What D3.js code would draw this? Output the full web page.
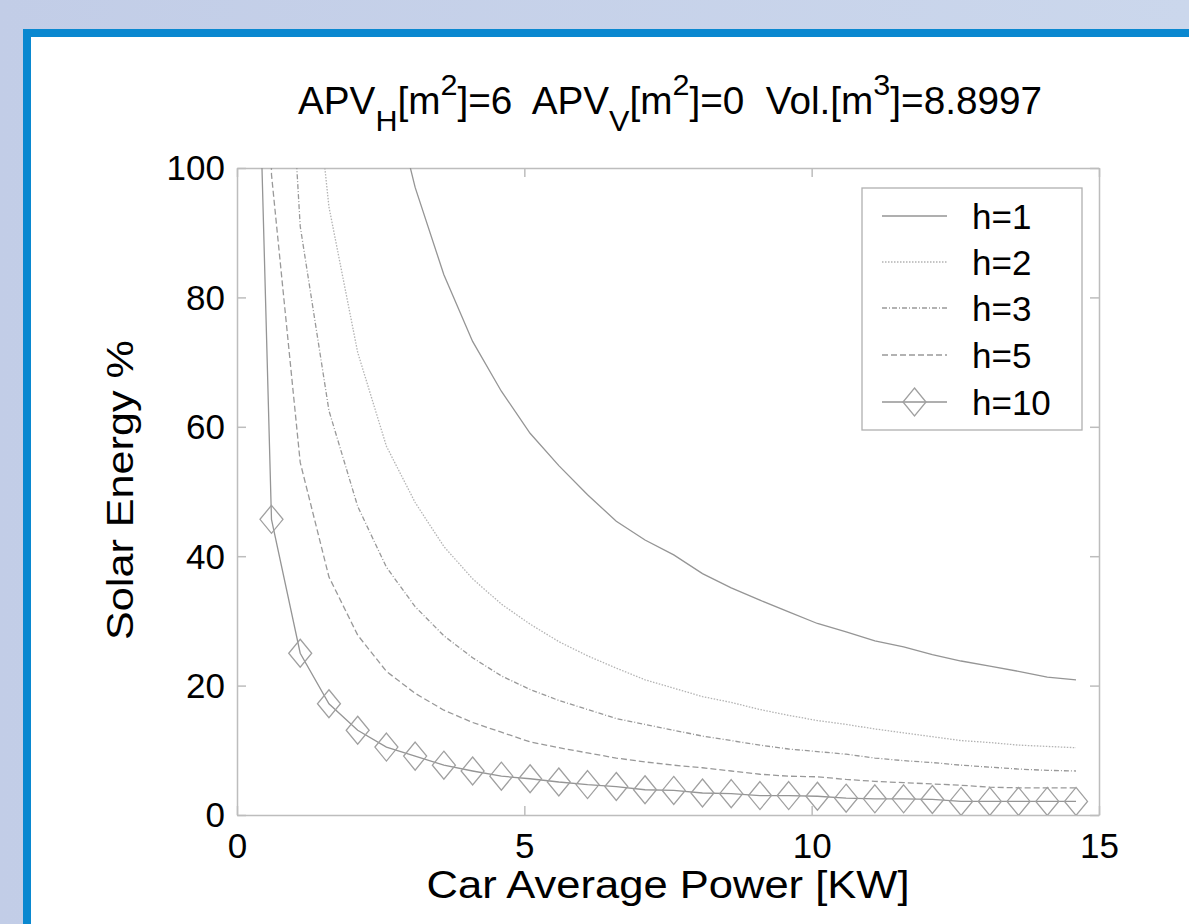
<!DOCTYPE html>
<html>
<head>
<meta charset="utf-8">
<script src="https://cdn.jsdelivr.net/npm/d3@7"></script>
<style>
  body { margin: 0; padding: 0; overflow: hidden; }
  svg { display: block; }
  text { font-family: "Liberation Sans", Arial, sans-serif; fill: #000; }
</style>
</head>
<body>
<svg id="chart"></svg>
<script>
// data
var powerKW = [0.1, 0.6, 1.1, 1.6, 2.1, 2.6, 3.1, 3.6, 4.1, 4.6, 5.1, 5.6, 6.1, 6.6, 7.1,
               7.6, 8.1, 8.6, 9.1, 9.6, 10.1, 10.6, 11.1, 11.6, 12.1, 12.6, 13.1, 13.6, 14.1, 14.6]

var h1 = [3000, 500, 273, 188, 143, 115, 97, 83.5, 73.2, 65.5, 59, 54, 49.5, 45.4, 42.5,
          40.2, 37.3, 35.1, 33.2, 31.4, 29.6, 28.3, 26.9, 26.0, 24.8, 23.8, 23.0, 22.2, 21.3, 20.9]
var h2 = [1500, 250, 136, 94, 71.5, 57, 48.3, 41.5, 36.5, 32.6, 29.5, 26.8, 24.6, 22.7, 20.9,
          19.6, 18.3, 17.4, 16.3, 15.4, 14.6, 14.0, 13.3, 12.7, 12.1, 11.5, 11.2, 10.8, 10.6, 10.4]
var h3 = [1000, 167, 91, 62.5, 47.7, 38.3, 32.2, 27.7, 24.3, 21.5, 19.4, 17.7, 16.3, 14.9, 14.0,
          13.1, 12.2, 11.5, 10.8, 10.2, 9.8, 9.4, 8.8, 8.4, 8.1, 7.7, 7.4, 7.1, 6.9, 6.8]
var h5 = [600, 99, 54.5, 36.8, 27.8, 22.2, 18.8, 16.2, 14.3, 12.8, 11.3, 10.4, 9.6, 8.8, 8.2,
          7.7, 7.3, 6.8, 6.3, 6.0, 5.9, 5.5, 5.2, 5.0, 4.8, 4.6, 4.3, 4.2, 4.2, 4.2]
var h10 = [210, 45.7, 25.0, 17.2, 13.1, 10.5, 9.1, 7.7, 6.8, 6.0, 5.6, 5.1, 4.7, 4.4, 3.9,
           3.8, 3.4, 3.3, 3.0, 3.0, 2.9, 2.6, 2.5, 2.5, 2.4, 2.1, 2.1, 2.1, 2.1, 2.1]

var seriesNames = ["h=1", "h=2", "h=3", "h=5", "h=10"]
var seriesVals = [h1, h2, h3, h5, h10]
var xTicks = [0, 5, 10, 15]
var yTicks = [0, 20, 40, 60, 80, 100]

var width = 1189
var height = 924
var svg = d3.select("#chart").attr("width", width).attr("height", height)

// page background and the blue L frame
var defs = svg.append("defs")
var bg = defs.append("linearGradient").attr("id", "bg").attr("x1", 0).attr("y1", 0).attr("x2", 1).attr("y2", 0)
bg.append("stop").attr("offset", "0%").attr("stop-color", "#c2cde7")
bg.append("stop").attr("offset", "100%").attr("stop-color", "#cbd7ec")
svg.append("rect").attr("width", width).attr("height", height).attr("fill", "url(#bg)")
svg.append("rect").attr("x", 23).attr("y", 29).attr("width", width).attr("height", height).attr("fill", "#0a88d0")
svg.append("rect").attr("x", 31).attr("y", 37).attr("width", width).attr("height", height).attr("fill", "#ffffff")

// scales
var x = d3.scaleLinear().domain([0, 15]).range([237, 1099])
var y = d3.scaleLinear().domain([0, 100]).range([815, 168])

defs.append("clipPath").attr("id", "plotclip")
  .append("rect").attr("x", 237).attr("y", 168).attr("width", 862).attr("height", 647)

var axisColor = "#bdbdbd"

//axes, ticks pointing inwards like matlab
function styleAxis(g, labels) {
  g.select(".domain").attr("stroke", axisColor).attr("stroke-width", 1.5)
  g.selectAll(".tick line").attr("stroke", axisColor).attr("stroke-width", 1.5)
  g.selectAll(".tick text").style("font-size", "35px").style("font-family", "Liberation Sans, Arial, sans-serif")
  if (!labels) g.selectAll(".tick text").remove()
}

var gx = svg.append("g").attr("transform", "translate(0,815)")
  .call(d3.axisBottom(x).tickValues(xTicks).tickSizeInner(-9).tickSizeOuter(0).tickPadding(16).tickFormat(d3.format("d")))
styleAxis(gx, true)
gx.selectAll(".tick text").attr("dy", "0.71em").attr("y", 18)

var gxTop = svg.append("g").attr("transform", "translate(0,168)")
  .call(d3.axisTop(x).tickValues(xTicks).tickSizeInner(-9).tickSizeOuter(0))
styleAxis(gxTop, false)

var gy = svg.append("g").attr("transform", "translate(237,0)")
  .call(d3.axisLeft(y).tickValues(yTicks).tickSizeInner(-9).tickSizeOuter(0).tickFormat(d3.format("d")))
styleAxis(gy, true)
gy.selectAll(".tick text").attr("x", -12).attr("dy", "0.34em")

var gyRight = svg.append("g").attr("transform", "translate(1099,0)")
  .call(d3.axisRight(y).tickValues(yTicks).tickSizeInner(-9).tickSizeOuter(0))
styleAxis(gyRight, false)

// curves
var styles = [
  { stroke: "#959595", dash: null },
  { stroke: "#b3b3b3", dash: "1.5,1.5" },
  { stroke: "#999999", dash: "5,2,1,2" },
  { stroke: "#999999", dash: "6,3" },
  { stroke: "#959595", dash: null }
]

var line = d3.line().x(function(d) { return x(d[0]) }).y(function(d) { return y(d[1]) })

var plot = svg.append("g").attr("clip-path", "url(#plotclip)")
seriesVals.forEach(function(vals, i) {
  var pts = powerKW.map(function(p, j) { return [p, vals[j]] })
  plot.append("path")
    .attr("d", line(pts))
    .attr("fill", "none")
    .attr("stroke", styles[i].stroke)
    .attr("stroke-width", 1.3)
    .attr("stroke-dasharray", styles[i].dash)
})

// diamonds on h=10
var dw = 11.5, dh = 14
function diamond(cx, cy) {
  return "M" + cx + "," + (cy - dh) + "L" + (cx + dw) + "," + cy + "L" + cx + "," + (cy + dh) + "L" + (cx - dw) + "," + cy + "Z"
}
plot.selectAll(".dia")
  .data(powerKW.map(function(p, j) { return [p, h10[j]] }))
  .enter()
  .append("path")
  .attr("class", "dia")
  .attr("d", function(d) { return diamond(x(d[0]), y(d[1])) })
  .attr("fill", "none")
  .attr("stroke", "#a0a0a0")
  .attr("stroke-width", 1.3)

// legend
var lg = svg.append("g")
lg.append("rect").attr("x", 862).attr("y", 188).attr("width", 220).attr("height", 242)
  .attr("fill", "#fff").attr("stroke", "#b0b0b0").attr("stroke-width", 1.3)
var rowY = [216, 262, 308, 355, 402]
seriesNames.forEach(function(name, i) {
  lg.append("line").attr("x1", 882).attr("x2", 947).attr("y1", rowY[i]).attr("y2", rowY[i])
    .attr("stroke", styles[i].stroke).attr("stroke-width", 1.3).attr("stroke-dasharray", styles[i].dash)
  if (i == 4) {
    lg.append("path").attr("d", diamond(914.5, rowY[i])).attr("fill", "none")
      .attr("stroke", "#a0a0a0").attr("stroke-width", 1.3)
  }
  lg.append("text").attr("x", 972).attr("y", rowY[i]).attr("dy", "0.36em")
    .style("font-size", "35px").text(name)
})

// title with sub and superscripts
var title = svg.append("text").attr("x", 298).attr("y", 114).style("font-size", "38px")
  .attr("textLength", 744).attr("lengthAdjust", "spacingAndGlyphs")
  .attr("xml:space", "preserve").style("white-space", "pre")
function part(t, shift) {
  var ts = title.append("tspan").text(t)
  if (shift) ts.attr("baseline-shift", shift).style("font-size", "30px")
}
part("APV")
part("H", "-17px")
part("[m")
part("2", "19px")
part("]=6  APV")
part("V", "-17px")
part("[m")
part("2", "19px")
part("]=0  Vol.[m")
part("3", "19px")
part("]=8.8997")

// axis labels
svg.append("text").attr("x", 668).attr("y", 898).attr("text-anchor", "middle")
  .style("font-size", "38px").attr("textLength", 483).attr("lengthAdjust", "spacingAndGlyphs")
  .text("Car Average Power [KW]")

svg.append("text").attr("transform", "translate(133,490) rotate(-90)").attr("text-anchor", "middle")
  .style("font-size", "36px").attr("textLength", 300).attr("lengthAdjust", "spacingAndGlyphs")
  .text("Solar Energy %")
</script>
</body>
</html>
